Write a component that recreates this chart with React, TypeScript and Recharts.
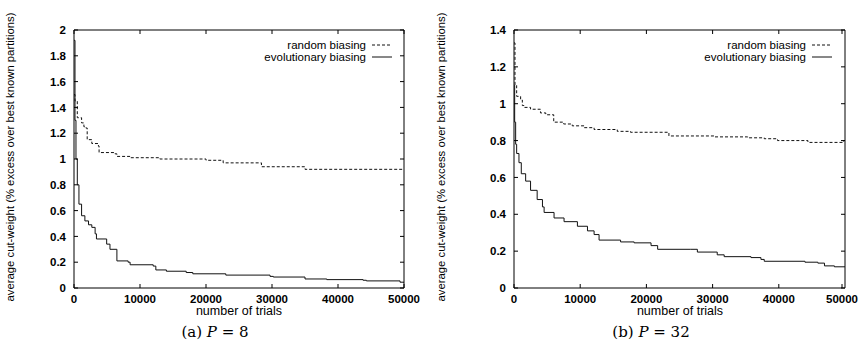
import { LineChart, Line, XAxis, YAxis, ReferenceArea } from "recharts";

// (a) P = 8
const randomTrialsA = [0, 150, 500, 1150, 1500, 1800, 2000, 2700, 3700, 3800, 6200, 6500, 8500, 13000, 20000, 22600, 28400, 32000, 35000, 50000];
const randomCutA = [1.5, 1.45, 1.32, 1.28, 1.25, 1.24, 1.15, 1.12, 1.1, 1.05, 1.04, 1.02, 1.01, 1.0, 0.99, 0.97, 0.94, 0.94, 0.92, 0.92];
const evoTrialsA = [0, 150, 300, 500, 750, 1150, 1650, 2200, 2700, 3200, 3400, 4950, 5450, 6500, 8200, 8500, 12000, 12400, 14000, 17000, 18000, 23000, 29700, 30200, 35000, 38300, 43800, 44300, 49400, 50000];
const evoCutA = [1.92, 1.3, 1.0, 0.8, 0.65, 0.56, 0.52, 0.49, 0.47, 0.42, 0.38, 0.34, 0.3, 0.21, 0.2, 0.18, 0.17, 0.14, 0.13, 0.12, 0.11, 0.1, 0.09, 0.085, 0.07, 0.065, 0.06, 0.055, 0.045, 0.04];

// (b) P = 32
const randomTrialsB = [0, 150, 400, 1000, 1260, 1500, 2500, 4000, 4800, 6000, 7500, 8800, 10600, 12100, 15600, 17600, 22200, 23400, 30200, 35300, 37800, 39800, 44400, 49800, 50000];
const randomCutB = [1.33, 1.1, 1.04, 1.02, 0.99, 0.98, 0.97, 0.95, 0.94, 0.9, 0.89, 0.88, 0.87, 0.86, 0.85, 0.845, 0.845, 0.825, 0.82, 0.815, 0.81, 0.8, 0.79, 0.8, 0.8];
const evoTrialsB = [0, 100, 250, 400, 750, 1100, 1760, 2500, 3500, 4300, 4550, 6050, 7560, 9580, 11100, 12100, 12850, 16100, 18150, 20700, 21700, 26700, 27700, 30700, 31750, 35800, 37300, 37800, 43950, 45900, 46900, 48400, 50000];
const evoCutB = [1.1, 0.9, 0.78, 0.73, 0.68, 0.62, 0.58, 0.53, 0.48, 0.44, 0.41, 0.38, 0.36, 0.335, 0.31, 0.29, 0.26, 0.25, 0.245, 0.23, 0.21, 0.21, 0.195, 0.18, 0.17, 0.165, 0.155, 0.145, 0.14, 0.135, 0.12, 0.115, 0.115];

const xTicks = [0, 10000, 20000, 30000, 40000, 50000];
const yTicksA = [0, 0.2, 0.4, 0.6, 0.8, 1, 1.2, 1.4, 1.6, 1.8, 2];
const yTicksB = [0, 0.2, 0.4, 0.6, 0.8, 1, 1.2, 1.4];

const yLabel = "average cut-weight (% excess over best known partitions)";
const xLabel = "number of trials";

const toRows = (xs: number[], ys: number[]) => xs.map((x, i) => ({ x, y: ys[i] }));

const SANS = '"Liberation Sans", Arial, sans-serif';
const SERIF = '"DejaVu Serif", "Liberation Serif", serif';
const TICK = 4;

const fmt = (v: number) => String(Number(v.toFixed(1)));

const makeYTick = (plotW: number) => (props: any) => {
  const { x, y, payload } = props;
  const ax = x + 8;
  return (
    <g>
      <text x={x} y={y} dy="0.36em" textAnchor="end" fontSize={11.5} fontWeight="bold" fontFamily={SANS} fill="#000">
        {fmt(payload.value)}
      </text>
      <line x1={ax} x2={ax + TICK} y1={y} y2={y} stroke="#000" />
      <line x1={ax + plotW - TICK} x2={ax + plotW} y1={y} y2={y} stroke="#000" />
    </g>
  );
};

const makeXTick = (plotH: number) => (props: any) => {
  const { x, y, payload } = props;
  const ay = y - 4;
  return (
    <g>
      <text x={x} y={ay + 15} textAnchor="middle" fontSize={11.5} fontWeight="bold" fontFamily={SANS} fill="#000">
        {payload.value}
      </text>
      <line x1={x} x2={x} y1={ay} y2={ay - TICK} stroke="#000" />
      <line x1={x} x2={x} y1={ay - plotH} y2={ay - plotH + TICK} stroke="#000" />
    </g>
  );
};

type PanelProps = {
  left: number;
  marginLeft: number;
  marginRight: number;
  yMax: number;
  yTicks: number[];
  random: { x: number; y: number }[];
  evo: { x: number; y: number }[];
};

const Panel = ({ left, marginLeft, marginRight, yMax, yTicks, random, evo }: PanelProps) => {
  const W = 431;
  const H = 344;
  const plotW = W - marginLeft - 40 - marginRight;
  const plotH = 258;
  return (
    <div style={{ position: "absolute", left, top: 0 }}>
      <LineChart width={W} height={H} margin={{ top: 30, right: marginRight, left: marginLeft, bottom: 36 }}>
        <XAxis
          type="number"
          dataKey="x"
          domain={[0, 50000]}
          ticks={xTicks}
          height={20}
          tickSize={0}
          tickMargin={4}
          tickLine={false}
          axisLine={false}
          tick={makeXTick(plotH)}
          allowDataOverflow
        />
        <YAxis
          type="number"
          domain={[0, yMax]}
          ticks={yTicks}
          width={40}
          tickSize={0}
          tickMargin={8}
          tickLine={false}
          axisLine={false}
          tick={makeYTick(plotW)}
          allowDataOverflow
        />
        <ReferenceArea x1={0} x2={50000} y1={0} y2={yMax} fill="none" stroke="#000" strokeWidth={1} ifOverflow="visible" />
        <Line
          data={random}
          dataKey="y"
          type="stepAfter"
          stroke="#111"
          strokeWidth={1}
          strokeDasharray="3 2"
          dot={false}
          isAnimationActive={false}
        />
        <Line
          data={evo}
          dataKey="y"
          type="stepAfter"
          stroke="#111"
          strokeWidth={1}
          dot={false}
          isAnimationActive={false}
        />
      </LineChart>
    </div>
  );
};

const Txt = ({ cx, cy, size, children, rotate, family, weight }: any) => (
  <div
    style={{
      position: "absolute",
      left: cx,
      top: cy,
      transform: `translate(-50%, -50%)${rotate ? " rotate(-90deg)" : ""}`,
      whiteSpace: "nowrap",
      fontSize: size,
      fontFamily: family || SANS,
      fontWeight: weight || "normal",
      lineHeight: 1.1,
      color: "#000",
    }}
  >
    {children}
  </div>
);

const LegendBox = ({ right }: { right: number }) => (
  <div style={{ position: "absolute", left: right - 150, top: 39, width: 150, fontFamily: SANS, fontSize: 11.5, lineHeight: "12px" }}>
    {[
      { name: "random biasing", dash: "3 2" },
      { name: "evolutionary biasing", dash: undefined },
    ].map((s) => (
      <div key={s.name} style={{ display: "flex", justifyContent: "flex-end", alignItems: "center", height: 12 }}>
        <span>{s.name}</span>
        <svg width={26} height={12} style={{ marginLeft: 6 }}>
          <line x1={0} x2={20} y1={6} y2={6} stroke="#111" strokeDasharray={s.dash} />
        </svg>
      </div>
    ))}
  </div>
);

const Caption = ({ cx, tag, p }: { cx: number; tag: string; p: string }) => (
  <Txt cx={cx} cy={332} size={15} family={SERIF}>
    ({tag}) <i>P</i> = {p}
  </Txt>
);

export default function App() {
  return (
    <div style={{ position: "absolute", left: 0, top: 0, width: 862, height: 344, background: "#fff" }}>
      <Panel left={0} marginLeft={34} marginRight={27} yMax={2} yTicks={yTicksA} random={toRows(randomTrialsA, randomCutA)} evo={toRows(evoTrialsA, evoCutA)} />
      <Panel left={431} marginLeft={43} marginRight={17} yMax={1.4} yTicks={yTicksB} random={toRows(randomTrialsB, randomCutB)} evo={toRows(evoTrialsB, evoCutB)} />

      <Txt cx={10} cy={157} size={11.3} rotate>{yLabel}</Txt>
      <Txt cx={441} cy={157} size={11.3} rotate>{yLabel}</Txt>
      <Txt cx={239} cy={312} size={12.5}>{xLabel}</Txt>
      <Txt cx={680} cy={312} size={12.5}>{xLabel}</Txt>
      <LegendBox right={398} />
      <LegendBox right={838} />
      <Caption cx={215} tag="a" p="8" />
      <Caption cx={651} tag="b" p="32" />
    </div>
  );
}
